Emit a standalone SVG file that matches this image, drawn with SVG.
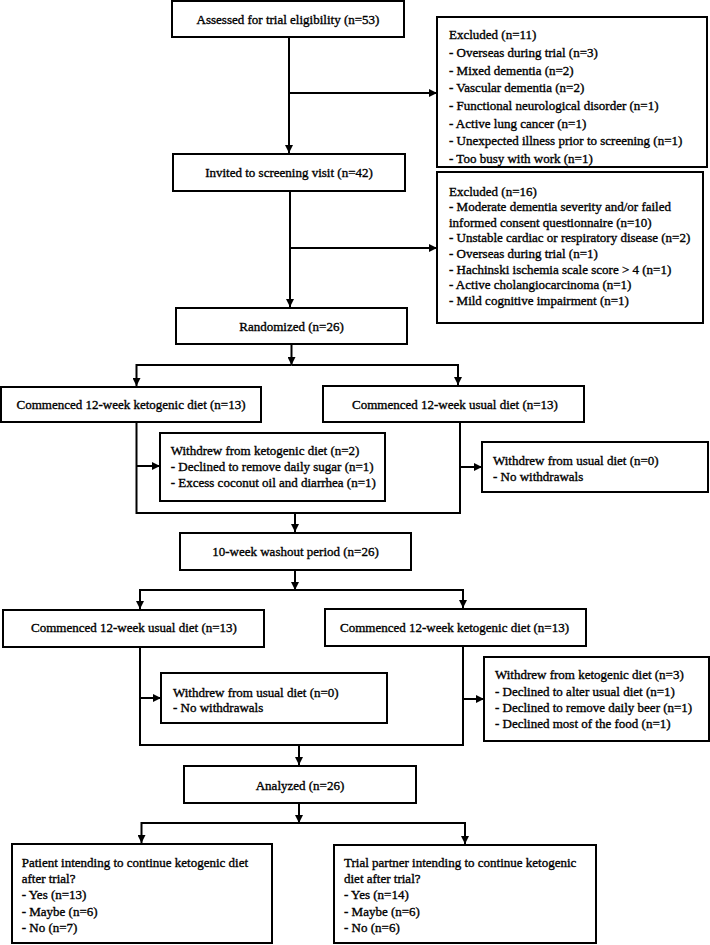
<svg xmlns="http://www.w3.org/2000/svg" width="710" height="945" viewBox="0 0 710 945">
<defs>
<style>
.box{fill:#fff;stroke:#000;stroke-width:2}
.t{font-family:"Liberation Serif","Times New Roman",serif;font-size:13px;fill:#000;stroke:#000;stroke-width:0.35px}
.c{text-anchor:middle}
.ln{fill:none;stroke:#000;stroke-width:2}
.ar{marker-end:url(#ah)}
</style>
<marker id="ah" markerUnits="userSpaceOnUse" markerWidth="8" markerHeight="8" refX="8" refY="4" orient="auto">
<path d="M0,0 L8,4 L0,8 z" fill="#000"/>
</marker>
</defs>
<rect width="710" height="945" fill="#fff"/>
<g id="connectors">
<path class="ln ar" d="M289,37 V153"/>
<path class="ln ar" d="M289,93 H437"/>
<path class="ln ar" d="M290,191 V307"/>
<path class="ln ar" d="M290,248 H437"/>
<path class="ln ar" d="M291.5,344 V365"/>
<path class="ln ar" d="M291.5,365 H136.5 V386"/>
<path class="ln ar" d="M291.5,365 H458 V385"/>
<path class="ln" d="M136.5,422 V513 H460 V422"/>
<path class="ln ar" d="M136.5,466 H160"/>
<path class="ln ar" d="M460,467 H482"/>
<path class="ln ar" d="M295,513 V532"/>
<path class="ln ar" d="M295,570 V590"/>
<path class="ln ar" d="M295,590 H140 V609"/>
<path class="ln ar" d="M295,590 H463 V608"/>
<path class="ln" d="M140,647 V745 H463 V646"/>
<path class="ln ar" d="M140,698 H161"/>
<path class="ln ar" d="M463,699 H484"/>
<path class="ln ar" d="M299,745 V765"/>
<path class="ln ar" d="M299,803 V823"/>
<path class="ln ar" d="M299,823 H141.5 V843"/>
<path class="ln ar" d="M299,823 H465 V844"/>
</g>
<g id="assessed">
<rect class="box" x="172" y="1" width="232" height="36"/>
<text class="t c" x="288" y="23.5">Assessed for trial eligibility (n=53)</text>
</g>
<g id="excluded1">
<rect class="box" x="437" y="17" width="270" height="150"/>
<text class="t" x="449" y="39.3">Excluded (n=11)</text>
<text class="t" x="449" y="57">- Overseas during trial (n=3)</text>
<text class="t" x="449" y="74.7">- Mixed dementia (n=2)</text>
<text class="t" x="449" y="92.3">- Vascular dementia (n=2)</text>
<text class="t" x="449" y="110">- Functional neurological disorder (n=1)</text>
<text class="t" x="449" y="127.7">- Active lung cancer (n=1)</text>
<text class="t" x="449" y="145.3">- Unexpected illness prior to screening (n=1)</text>
<text class="t" x="449" y="163">- Too busy with work (n=1)</text>
</g>
<g id="invited">
<rect class="box" x="173" y="154" width="232" height="37"/>
<text class="t c" x="289" y="176.5">Invited to screening visit (n=42)</text>
</g>
<g id="excluded2">
<rect class="box" x="437" y="172" width="266" height="151"/>
<text class="t" x="449" y="195.5">Excluded (n=16)</text>
<text class="t" x="449" y="211.1">- Moderate dementia severity and/or failed</text>
<text class="t" x="449" y="226.7">informed consent questionnaire (n=10)</text>
<text class="t" x="449" y="242.3">- Unstable cardiac or respiratory disease (n=2)</text>
<text class="t" x="449" y="257.9">- Overseas during trial (n=1)</text>
<text class="t" x="449" y="273.5">- Hachinski ischemia scale score &gt; 4 (n=1)</text>
<text class="t" x="449" y="289.1">- Active cholangiocarcinoma (n=1)</text>
<text class="t" x="449" y="304.7">- Mild cognitive impairment (n=1)</text>
</g>
<g id="randomized">
<rect class="box" x="176" y="308" width="231" height="36"/>
<text class="t c" x="291.5" y="330.5">Randomized (n=26)</text>
</g>
<g id="keto1">
<rect class="box" x="1" y="387" width="260" height="35"/>
<text class="t c" x="131" y="409">Commenced 12-week ketogenic diet (n=13)</text>
</g>
<g id="usual1">
<rect class="box" x="323" y="386" width="261" height="36"/>
<text class="t c" x="455" y="408.5">Commenced 12-week usual diet (n=13)</text>
</g>
<g id="withdrew-keto1">
<rect class="box" x="160" y="433" width="225" height="68"/>
<text class="t" x="170.7" y="454.5">Withdrew from ketogenic diet (n=2)</text>
<text class="t" x="170.7" y="470.8">- Declined to remove daily sugar (n=1)</text>
<text class="t" x="170.7" y="487.1">- Excess coconut oil and diarrhea (n=1)</text>
</g>
<g id="withdrew-usual1">
<rect class="box" x="482" y="442" width="226" height="50"/>
<text class="t" x="493" y="464.7">Withdrew from usual diet (n=0)</text>
<text class="t" x="493" y="480.7">- No withdrawals</text>
</g>
<g id="washout">
<rect class="box" x="180" y="533" width="231" height="37"/>
<text class="t c" x="295.5" y="555.5">10-week washout period (n=26)</text>
</g>
<g id="usual2">
<rect class="box" x="3" y="610" width="261" height="37"/>
<text class="t c" x="134" y="632">Commenced 12-week usual diet (n=13)</text>
</g>
<g id="keto2">
<rect class="box" x="325" y="609" width="261" height="37"/>
<text class="t c" x="454.5" y="631.5">Commenced 12-week ketogenic diet (n=13)</text>
</g>
<g id="withdrew-usual2">
<rect class="box" x="161" y="673" width="226" height="50"/>
<text class="t" x="173" y="696.7">Withdrew from usual diet (n=0)</text>
<text class="t" x="173" y="712.3">- No withdrawals</text>
</g>
<g id="withdrew-keto2">
<rect class="box" x="484" y="657" width="225" height="84"/>
<text class="t" x="495" y="679">Withdrew from ketogenic diet (n=3)</text>
<text class="t" x="495" y="695.7">- Declined to alter usual diet (n=1)</text>
<text class="t" x="495" y="712.3">- Declined to remove daily beer (n=1)</text>
<text class="t" x="495" y="728">- Declined most of the food (n=1)</text>
</g>
<g id="analyzed">
<rect class="box" x="184" y="766" width="232" height="37"/>
<text class="t c" x="300" y="789.5">Analyzed (n=26)</text>
</g>
<g id="patient">
<rect class="box" x="12" y="844" width="260" height="99"/>
<text class="t" x="21.7" y="866.7">Patient intending to continue ketogenic diet</text>
<text class="t" x="21.7" y="883">after trial?</text>
<text class="t" x="21.7" y="899.2">- Yes (n=13)</text>
<text class="t" x="21.7" y="915.5">- Maybe (n=6)</text>
<text class="t" x="21.7" y="931.7">- No (n=7)</text>
</g>
<g id="partner">
<rect class="box" x="334" y="845" width="262" height="98"/>
<text class="t" x="344" y="866.7">Trial partner intending to continue ketogenic</text>
<text class="t" x="344" y="883">diet after trial?</text>
<text class="t" x="344" y="899.2">- Yes (n=14)</text>
<text class="t" x="344" y="915.5">- Maybe (n=6)</text>
<text class="t" x="344" y="931.7">- No (n=6)</text>
</g>
</svg>
